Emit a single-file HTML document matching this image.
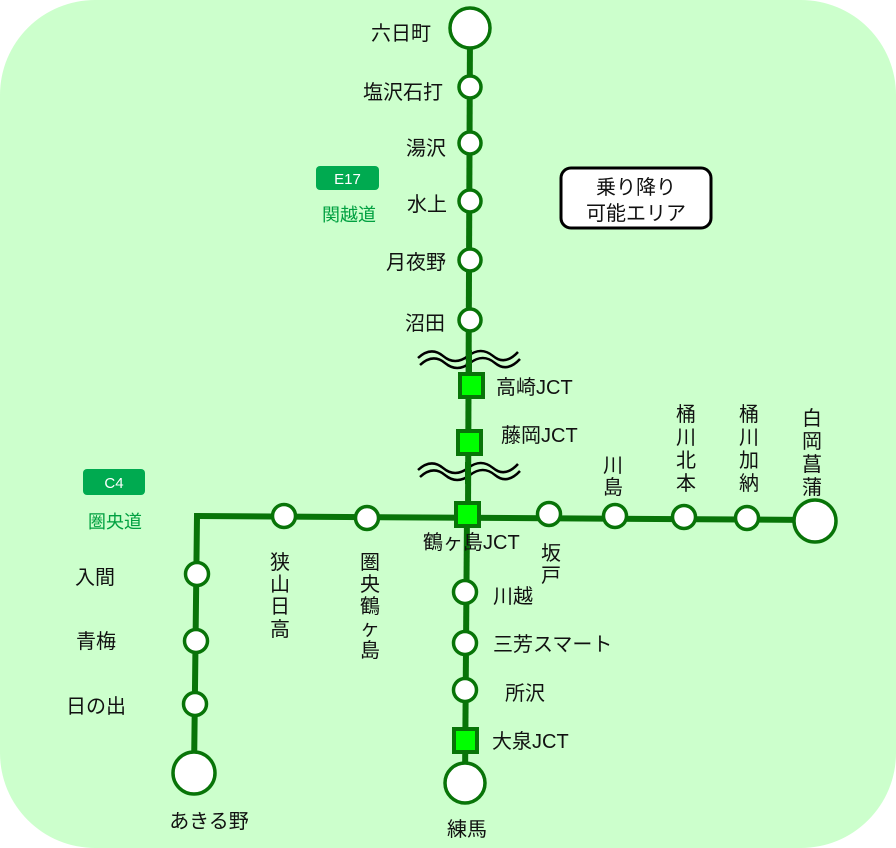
<!DOCTYPE html>
<html><head><meta charset="utf-8"><style>
html,body{margin:0;padding:0;background:#fff;}
svg{display:block;}
text{font-family:"Liberation Sans","Noto Sans CJK JP",sans-serif;font-size:20px;fill:#111;}
</style></head><body>
<svg width="896" height="848" viewBox="0 0 896 848" xmlns="http://www.w3.org/2000/svg">
<rect x="0" y="0" width="896" height="848" rx="95" ry="95" fill="#ccffcc"/>
<g stroke="#087408" stroke-width="6" fill="none">
<line x1="470" y1="28" x2="468" y2="514"/>
<line x1="467" y1="514" x2="465" y2="783"/>
<line x1="197" y1="516" x2="815" y2="520"/>
<polyline points="200,516 197,516 194,773"/>
</g>
<g fill="none" stroke="#000" stroke-width="2.5">
<path d="M418,358 q13,-12 25,-2 t25,0 t25,0 t25,-4"/>
<path d="M420,365 q13,-12 25,-2 t25,0 t25,0 t25,-4"/>
<path d="M418,470 q13,-12 25,-2 t25,0 t25,0 t25,-4"/>
<path d="M420,477 q13,-12 25,-2 t25,0 t25,0 t25,-4"/>
</g>
<g stroke="#ccffcc" stroke-width="2" fill="none">
<path d="M419,361.5 q13,-12 25,-2 t25,0 t25,0 t25,-4"/>
<path d="M419,473.5 q13,-12 25,-2 t25,0 t25,0 t25,-4"/>
</g>
<line x1="469" y1="350" x2="469" y2="372" stroke="#087408" stroke-width="6"/>
<line x1="468" y1="462" x2="468" y2="484" stroke="#087408" stroke-width="6"/>
<g fill="#fff" stroke="#087408" stroke-width="3.5">
<circle cx="470" cy="28" r="20"/>
<circle cx="470" cy="87" r="11"/>
<circle cx="470" cy="143" r="11"/>
<circle cx="470" cy="201" r="11"/>
<circle cx="470" cy="260" r="11"/>
<circle cx="470" cy="320" r="11"/>
<circle cx="284" cy="516" r="11.5"/>
<circle cx="367" cy="518" r="11.5"/>
<circle cx="549" cy="514" r="11.5"/>
<circle cx="615" cy="516" r="11.5"/>
<circle cx="684" cy="517" r="11.5"/>
<circle cx="747" cy="518" r="11.5"/>
<circle cx="815" cy="521" r="21"/>
<circle cx="197" cy="574" r="11.5"/>
<circle cx="196" cy="641" r="11.5"/>
<circle cx="195" cy="704" r="11.5"/>
<circle cx="194" cy="773" r="21"/>
<circle cx="465" cy="592" r="11.5"/>
<circle cx="465" cy="643" r="11.5"/>
<circle cx="465" cy="690" r="11.5"/>
<circle cx="465" cy="783" r="20"/>
</g>
<g fill="#00ff00" stroke="#087408" stroke-width="4">
<rect x="460" y="374" width="23" height="23"/>
<rect x="458" y="431" width="23" height="23"/>
<rect x="456" y="503" width="23" height="23"/>
<rect x="454" y="729" width="23" height="23"/>
</g>
<rect x="561" y="168" width="150" height="60" rx="10" fill="#fff" stroke="#000" stroke-width="3"/>
<text x="636" y="194" text-anchor="middle">乗り降り</text>
<text x="636" y="220" text-anchor="middle">可能エリア</text>
<rect x="316" y="166" width="63" height="24" rx="4" fill="#00aa50"/>
<text x="347.5" y="184" text-anchor="middle" style="fill:#fff;font-size:15px">E17</text>
<text x="349" y="221" text-anchor="middle" style="fill:#00a040;font-size:18px">関越道</text>
<rect x="83" y="469" width="62" height="26" rx="4" fill="#00aa50"/>
<text x="114" y="488" text-anchor="middle" style="fill:#fff;font-size:15px">C4</text>
<text x="115" y="528" text-anchor="middle" style="fill:#00a040;font-size:18px">圏央道</text>
<g text-anchor="end">
<text x="431" y="40">六日町</text>
<text x="443" y="99">塩沢石打</text>
<text x="446" y="155">湯沢</text>
<text x="447" y="211">水上</text>
<text x="446" y="269">月夜野</text>
<text x="445" y="330">沼田</text>
<text x="115" y="584">入間</text>
<text x="116" y="648">青梅</text>
<text x="126" y="713">日の出</text>
</g>
<text x="496" y="394">高崎JCT</text>
<text x="501" y="442">藤岡JCT</text>
<text x="423" y="549">鶴ヶ島JCT</text>
<text x="493" y="603">川越</text>
<text x="493" y="651">三芳スマート</text>
<text x="505" y="700">所沢</text>
<text x="492" y="748">大泉JCT</text>
<text x="209" y="828" text-anchor="middle">あきる野</text>
<text x="467" y="836" text-anchor="middle">練馬</text>
<g text-anchor="middle">
<text x="280" y="569">狭</text><text x="280" y="591">山</text><text x="280" y="613">日</text><text x="280" y="636">高</text>
<text x="370" y="569">圏</text><text x="370" y="591">央</text><text x="370" y="613">鶴</text><text x="370" y="635">ヶ</text><text x="370" y="657">島</text>
<text x="551" y="560">坂</text><text x="551" y="582">戸</text>
<text x="613" y="472">川</text><text x="613" y="494">島</text>
<text x="686" y="421">桶</text><text x="686" y="444">川</text><text x="686" y="467">北</text><text x="686" y="490">本</text>
<text x="749" y="421">桶</text><text x="749" y="444">川</text><text x="749" y="467">加</text><text x="749" y="490">納</text>
<text x="812" y="425">白</text><text x="812" y="448">岡</text><text x="812" y="471">菖</text><text x="812" y="494">蒲</text>
</g>
</svg>
</body></html>
